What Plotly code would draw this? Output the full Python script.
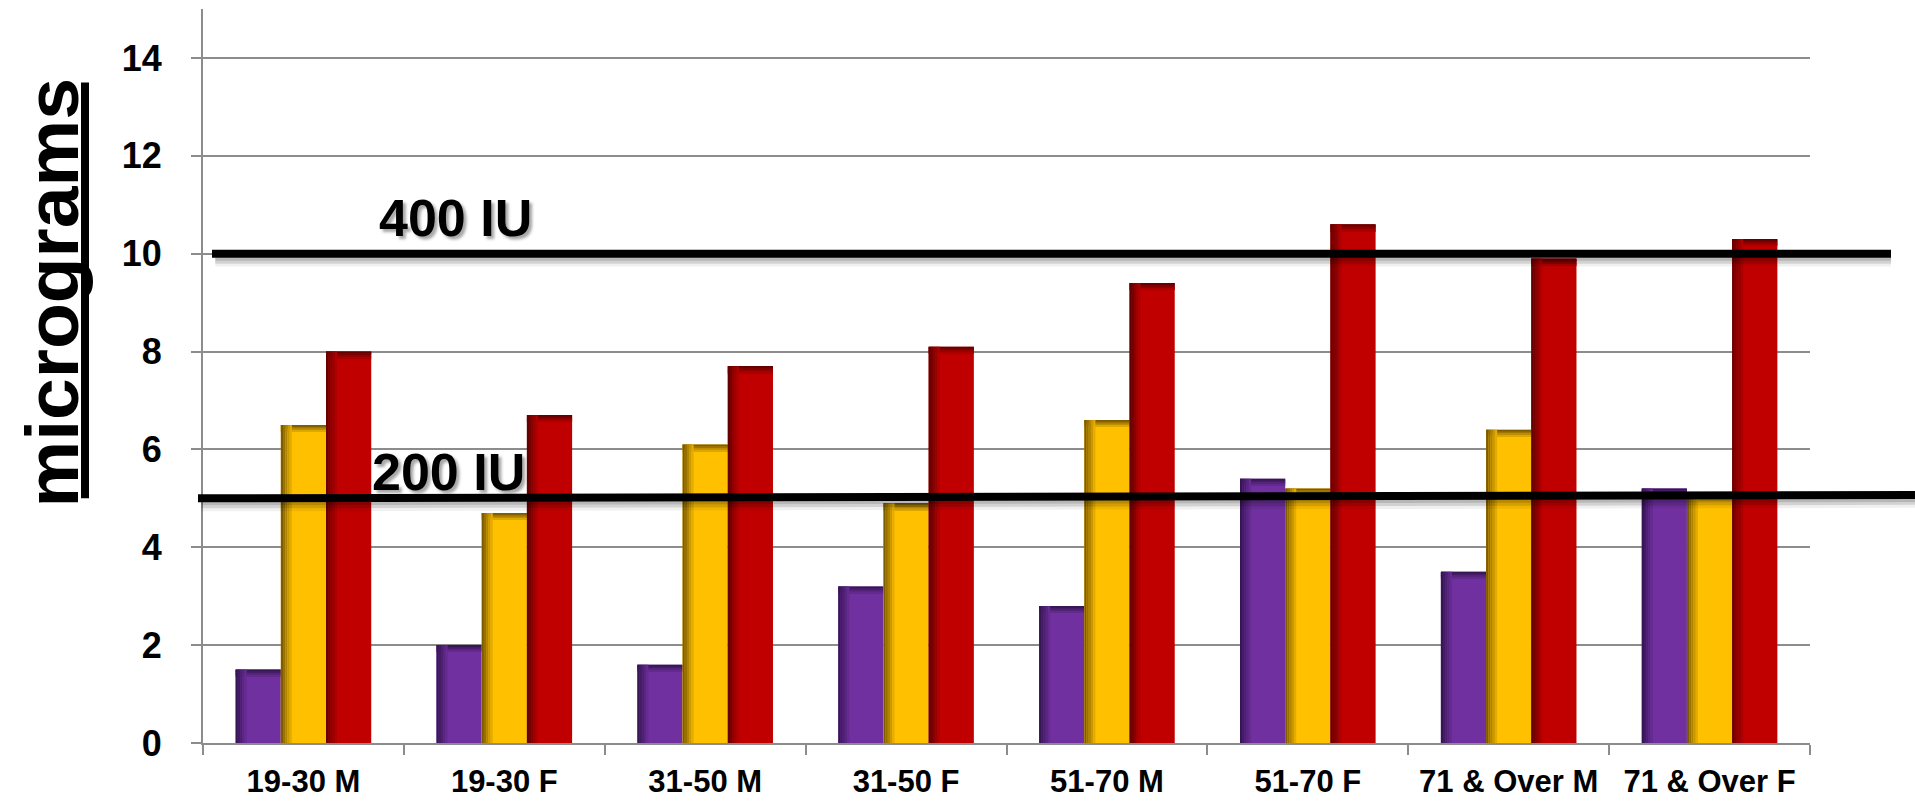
import plotly.graph_objects as go

# Vitamin D intake (micrograms) by age group and sex
categories = ["19-30 M", "19-30 F", "31-50 M", "31-50 F",
              "51-70 M", "51-70 F", "71 & Over M", "71 & Over F"]
series_1 = [1.5, 2.0, 1.6, 3.2, 2.8, 5.4, 3.5, 5.2]
series_2 = [6.5, 4.7, 6.1, 4.9, 6.6, 5.2, 6.4, 5.1]
series_3 = [8.0, 6.7, 7.7, 8.1, 9.4, 10.6, 9.9, 10.3]
y_ticks = [0, 2, 4, 6, 8, 10, 12, 14]
reference_levels = {"400 IU": 10, "200 IU": 5}

Y_MAX = 15
W, H = 1915, 808
M_L, M_R, M_T, M_B = 203, 105, 9, 61
PW = W - M_L - M_R
PH = H - M_T - M_B

FONT = "Liberation Sans, Arial, sans-serif"

series = [
    (series_1, (112, 48, 160), (55, 22, 85)),
    (series_2, (255, 192, 0), (125, 92, 0)),
    (series_3, (192, 0, 0), (100, 0, 0)),
]
bar_w = 0.225
offsets = [-1.5 * bar_w, -0.5 * bar_w, 0.5 * bar_w]


def rgb(c):
    return "rgb(%d,%d,%d)" % c


def mix(a, b, t):
    return tuple(round(a[i] + (b[i] - a[i]) * t) for i in range(3))


fig = go.Figure()

for (vals, base_col, dark_col), off in zip(series, offsets):
    # main bar body
    fig.add_trace(go.Bar(
        x=categories, y=vals, width=bar_w, offset=off,
        marker=dict(color=rgb(base_col), line=dict(width=0)),
        showlegend=False, hoverinfo="skip"))
    # darker top band fading downward
    n_top = 4
    band = 0.035
    for k in range(n_top):
        t = k / n_top
        fig.add_trace(go.Bar(
            x=categories, y=[band] * len(vals),
            base=[v - band * (k + 1) for v in vals],
            width=bar_w, offset=off,
            marker=dict(color=rgb(mix(dark_col, base_col, t)), line=dict(width=0)),
            showlegend=False, hoverinfo="skip"))
    # darker left edge fading to the right
    n_left = 5
    strip = 0.011
    for k in range(n_left):
        t = k / n_left
        fig.add_trace(go.Bar(
            x=categories, y=vals, width=strip, offset=off + k * strip,
            marker=dict(color=rgb(mix(dark_col, base_col, t)), line=dict(width=0)),
            showlegend=False, hoverinfo="skip"))


def px_x(px):
    return (px - M_L) / PW


def px_dy(px):
    return px / PH


shapes = []
# reference lines with soft shadows
lines = [
    (reference_levels["400 IU"], reference_levels["400 IU"], px_x(212), px_x(1891)),
    (reference_levels["200 IU"], reference_levels["200 IU"] + 0.07, px_x(198), px_x(1915)),
]
for v0, v1, xa, xb in lines:
    for k, op in enumerate([0.18, 0.12, 0.06]):
        shapes.append(dict(
            type="line", xref="paper", yref="paper",
            x0=xa + 0.002, x1=xb, y0=v0 / Y_MAX - px_dy(4 + 3 * k), y1=v1 / Y_MAX - px_dy(4 + 3 * k),
            line=dict(color="rgba(0,0,0,%.2f)" % op, width=6), layer="above"))
    shapes.append(dict(
        type="line", xref="paper", yref="paper",
        x0=xa, x1=xb, y0=v0 / Y_MAX, y1=v1 / Y_MAX,
        line=dict(color="black", width=8), layer="above"))

# underline of the vertical axis title
shapes.append(dict(type="line", xref="paper", yref="paper",
                   x0=px_x(85), x1=px_x(85),
                   y0=(H - M_B - 501) / PH, y1=(H - M_B - 83) / PH,
                   line=dict(color="black", width=8)))

label_shadow = "3px 3px 3px rgba(0,0,0,0.35)"
annotations = [
    dict(text="400 IU", xref="paper", yref="paper",
         x=px_x(455), y=(H - M_B - 219) / PH, showarrow=False,
         xanchor="center", yanchor="middle",
         font=dict(family=FONT, size=52, color="black", weight=700, shadow=label_shadow)),
    dict(text="200 IU", xref="paper", yref="paper",
         x=px_x(448), y=(H - M_B - 475) / PH, showarrow=False,
         xanchor="center", yanchor="middle",
         font=dict(family=FONT, size=52, color="black", weight=700, shadow=label_shadow)),
    dict(text="micrograms", xref="paper", yref="paper",
         x=px_x(52), y=(H - M_B - 295) / PH, showarrow=False,
         textangle=-90, xanchor="center", yanchor="middle",
         font=dict(family=FONT, size=75, color="black", weight=700)),
]

fig.update_layout(
    width=W, height=H,
    margin=dict(l=M_L, r=M_R, t=M_T, b=M_B, pad=0),
    paper_bgcolor="white", plot_bgcolor="white",
    barmode="overlay",
    shapes=shapes, annotations=annotations,
    showlegend=False,
)
fig.update_xaxes(
    type="category", showgrid=False,
    showline=True, linecolor="#8c8c8c", linewidth=2,
    ticks="outside", tickson="boundaries", ticklen=10, tickwidth=2, tickcolor="#8c8c8c",
    tickfont=dict(family=FONT, size=31, color="black", weight=700),
    ticklabelstandoff=10,
)
fig.update_yaxes(
    range=[0, Y_MAX], tickvals=y_ticks,
    showgrid=True, gridcolor="#8c8c8c", gridwidth=2,
    showline=True, linecolor="#8c8c8c", linewidth=2,
    ticks="outside", ticklen=10, tickwidth=2, tickcolor="#8c8c8c",
    tickfont=dict(family=FONT, size=36, color="black", weight=700),
    ticklabelstandoff=22, zeroline=False,
)

fig.write_html("out.html")
